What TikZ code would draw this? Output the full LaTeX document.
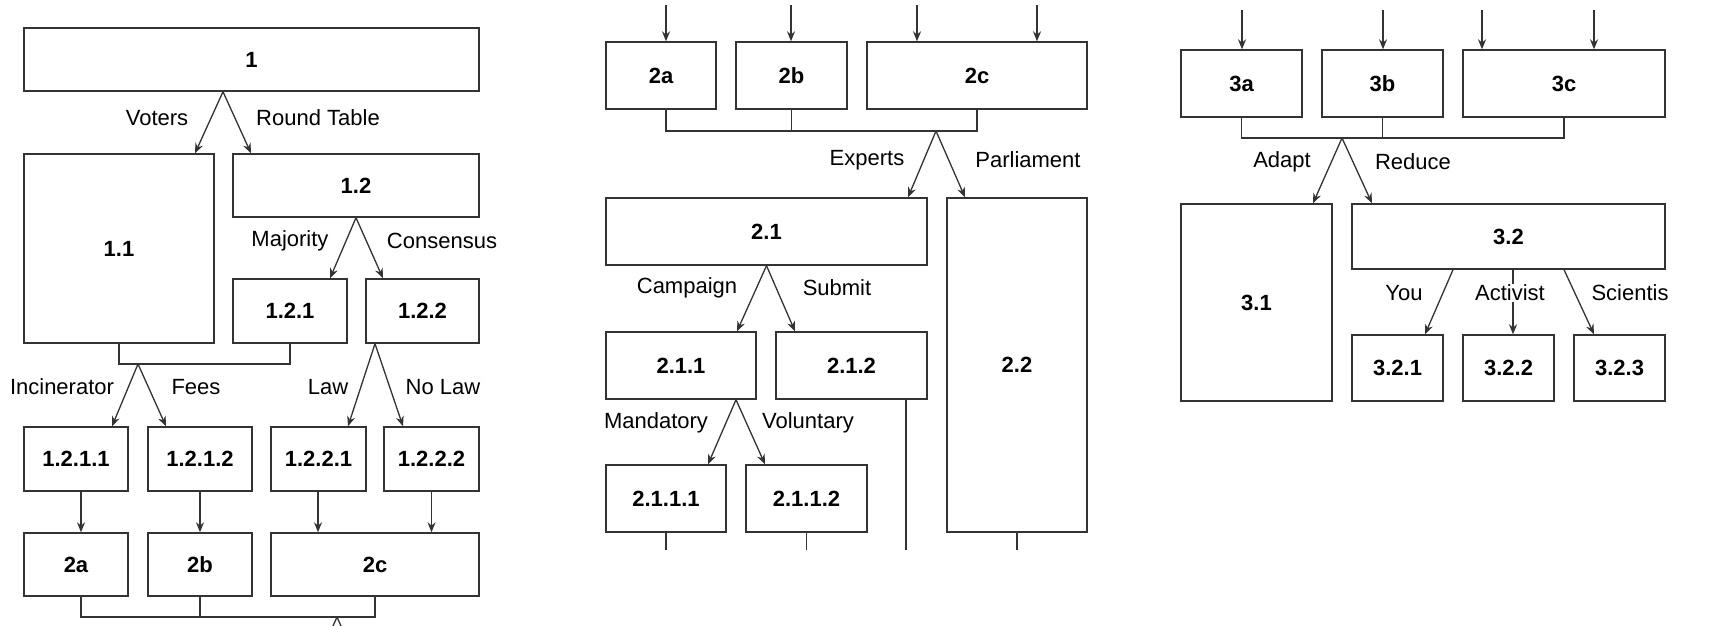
\documentclass[tikz,border=0pt]{standalone}
\usepackage{fontspec}
\setmainfont{Liberation Sans}
\usetikzlibrary{arrows.meta}

\begin{document}
\begin{tikzpicture}[%
        x=1pt, y=-1pt,
        box/.style={
            % the shape:
            rectangle,
            % the rest:
            draw=black!80,
            line width=1.4pt,
            inner sep=0pt,
            font=\fontsize{22}{26}\selectfont\bfseries,
        },
        dims/.style 2 args={
            minimum width=#1,
            minimum height=#2,
        },
        lbl/.style={
            fill=white,
            inner sep=1pt,
            font=\fontsize{22}{26}\selectfont,
        },
        link/.style={
            draw=black!80,
            line width=1.3pt,
        },
        >={Stealth[length=10pt,width=8pt]}
    ]

    \useasboundingbox (0,0) rectangle (1728,625);
    \clip (0,0) rectangle (1728,625);

    % first tree
    \node[box, dims={455}{63}] (n1) at (251.5,59.5) {1};
    \node[box, dims={190}{189}] (n11) at (119,248.5) {1.1};
    \node[box, dims={246}{63}] (n12) at (356,185.5) {1.2};
    \node[box, dims={114}{64}] (n121) at (290,311) {1.2.1};
    \node[box, dims={113}{64}] (n122) at (422.5,311) {1.2.2};
    \node[box, dims={104}{64}] (n1211) at (76,459) {1.2.1.1};
    \node[box, dims={104}{64}] (n1212) at (200,459) {1.2.1.2};
    \node[box, dims={95}{64}] (n1221) at (318.5,459) {1.2.2.1};
    \node[box, dims={95}{64}] (n1222) at (431.5,459) {1.2.2.2};
    \node[box, dims={104}{63}] (p1a) at (76,564.5) {2a};
    \node[box, dims={104}{63}] (p1b) at (200,564.5) {2b};
    \node[box, dims={208}{63}] (p1c) at (375,564.5) {2c};

    \coordinate (a1) at (223,0 |- n1.south);
    \draw[link,->] (a1) -- (195,0 |- n11.north);
    \draw[link,->] (a1) -- (251,0 |- n12.north);
    \node[lbl] (lvoters) at (157,118) {Voters};
    \node[lbl] (lround) at (318,118) {Round Table};

    \coordinate (a12) at (n12.south);
    \draw[link,->] (a12) -- (330,0 |- n121.north);
    \draw[link,->] (a12) -- (383,0 |- n122.north);
    \node[lbl] (lmajority) at (290,241) {Majority};
    \node[lbl] (lconsensus) at (442,241) {Consensus};

    \coordinate (b1) at (138,364);
    \draw[link] (n11.south) |- (b1) -| (n121.south);
    \draw[link,->] (b1) -- (112,0 |- n1211.north);
    \draw[link,->] (b1) -- (166,0 |- n1212.north);
    \node[lbl] (lincin) at (62,387) {Incinerator};
    \node[lbl] (lfees) at (196,387) {Fees};

    \coordinate (a122) at (375,0 |- n122.south);
    \draw[link,->] (a122) -- (348,0 |- n1221.north);
    \draw[link,->] (a122) -- (403,0 |- n1222.north);
    \node[lbl] (llaw) at (328,387) {Law};
    \node[lbl] (lnolaw) at (443,387) {No Law};

    \draw[link,->] (81,0 |- n1211.south) -- (81,0 |- p1a.north);
    \draw[link,->] (n1212.south) -- (p1b.north);
    \draw[link,->] (318,0 |- n1221.south) -- (318,0 |- p1c.north);
    \draw[link,->] (n1222.south) -- (431.5,0 |- p1c.north);

    \coordinate (b2) at (337,617);
    \draw[link] (81,0 |- p1a.south) |- (b2) -| (p1c.south);
    \draw[link] (p1b.south) -- (p1b.south |- b2);
    \draw[link] (b2) -- ++(-12,27);
    \draw[link] (b2) -- ++(12,27);

    % second tree
    \node[box, dims={110}{67}] (q2a) at (661,75.5) {2a};
    \node[box, dims={111}{67}] (q2b) at (791.5,75.5) {2b};
    \node[box, dims={220}{67}] (q2c) at (977,75.5) {2c};
    \node[box, dims={321}{67}] (n21) at (766.5,231.5) {2.1};
    \node[box, dims={140}{334}] (n22) at (1017,365) {2.2};
    \node[box, dims={150}{67}] (n211) at (681,365.5) {2.1.1};
    \node[box, dims={151}{67}] (n212) at (851.5,365.5) {2.1.2};
    \node[box, dims={120}{67}] (n2111) at (666,498.5) {2.1.1.1};
    \node[box, dims={121}{67}] (n2112) at (806.5,498.5) {2.1.1.2};

    \coordinate (t21) at (666,5);
    \coordinate (t22) at (791,5);
    \coordinate (t23) at (917,5);
    \coordinate (t24) at (1037,5);
    \draw[link,->] (t21) -- (t21 |- q2a.north);
    \draw[link,->] (t22) -- (t22 |- q2b.north);
    \draw[link,->] (t23) -- (t23 |- q2c.north);
    \draw[link,->] (t24) -- (t24 |- q2c.north);

    \coordinate (b3) at (936,131);
    \draw[link] (666,0 |- q2a.south) |- (b3) -| (q2c.south);
    \draw[link] (q2b.south) -- (q2b.south |- b3);
    \draw[link,->] (b3) -- (908,0 |- n21.north);
    \draw[link,->] (b3) -- (965,0 |- n22.north);
    \node[lbl] (lexperts) at (867,160) {Experts};
    \node[lbl] (lparl) at (1028,160) {Parliament};

    \coordinate (a21) at (n21.south);
    \draw[link,->] (a21) -- (737,0 |- n211.north);
    \draw[link,->] (a21) -- (795,0 |- n212.north);
    \node[lbl] (lcampaign) at (687,288) {Campaign};
    \node[lbl] (lsubmit) at (837,288) {Submit};

    \coordinate (a211) at (736,0 |- n211.south);
    \draw[link,->] (a211) -- (708,0 |- n2111.north);
    \draw[link,->] (a211) -- (765,0 |- n2112.north);
    \node[lbl] (lmand) at (656,423) {Mandatory};
    \node[lbl] (lvol) at (808,423) {Voluntary};

    \coordinate (e21) at (666,550);
    \coordinate (e22) at (806.5,550);
    \coordinate (e23) at (906,550);
    \coordinate (e24) at (1017,550);
    \draw[link] (n2111.south) -- (e21);
    \draw[link] (n2112.south) -- (e22);
    \draw[link] (e23 |- n212.south) -- (e23);
    \draw[link] (n22.south) -- (e24);

    % third tree
    \node[box, dims={121}{67}] (r3a) at (1241.5,83.5) {3a};
    \node[box, dims={121}{67}] (r3b) at (1382.5,83.5) {3b};
    \node[box, dims={202}{67}] (r3c) at (1564,83.5) {3c};
    \node[box, dims={151}{197}] (n31) at (1256.5,302.5) {3.1};
    \node[box, dims={313}{65}] (n32) at (1508.5,236.5) {3.2};
    \node[box, dims={91}{66}] (n321) at (1397.5,368) {3.2.1};
    \node[box, dims={91}{66}] (n322) at (1508.5,368) {3.2.2};
    \node[box, dims={91}{66}] (n323) at (1619.5,368) {3.2.3};

    \coordinate (t31) at (1242,10);
    \coordinate (t32) at (1383,10);
    \coordinate (t33) at (1482,10);
    \coordinate (t34) at (1594,10);
    \draw[link,->] (t31) -- (t31 |- r3a.north);
    \draw[link,->] (t32) -- (t32 |- r3b.north);
    \draw[link,->] (t33) -- (t33 |- r3c.north);
    \draw[link,->] (t34) -- (t34 |- r3c.north);

    \coordinate (b4) at (1342,138);
    \draw[link] (r3a.south) |- (b4) -| (r3c.south);
    \draw[link] (r3b.south) -- (r3b.south |- b4);
    \draw[link,->] (b4) -- (1313,0 |- n31.north);
    \draw[link,->] (b4) -- (1372,0 |- n32.north);
    \node[lbl] (ladapt) at (1282,162) {Adapt};
    \node[lbl] (lreduce) at (1413,162) {Reduce};

    \draw[link,->] (1453,0 |- n32.south) -- (1425,0 |- n321.north);
    \draw[link,->] (1513,0 |- n32.south) -- (1513,0 |- n322.north);
    \draw[link,->] (1564,0 |- n32.south) -- (1594,0 |- n323.north);
    \node[lbl] (lyou) at (1404,293) {You};
    \node[lbl] (lactivist) at (1510,293) {Activist};
    \node[lbl] (lscient) at (1630,293) {Scientis};

\end{tikzpicture}
\end{document}
